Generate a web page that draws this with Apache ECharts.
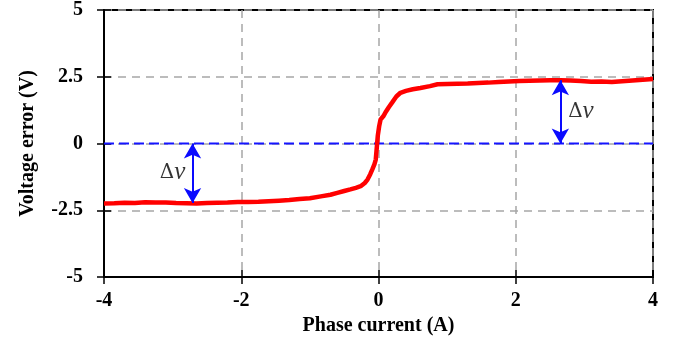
<!DOCTYPE html>
<html>
<head>
<meta charset="utf-8">
<script src="https://cdn.jsdelivr.net/npm/echarts@6/dist/echarts.min.js"></script>
<style>
  html, body { margin: 0; padding: 0; background: #fff; }
  #chart { width: 681px; height: 348px; }
</style>
</head>
<body>
<div id="chart"></div>
<script>
// Phase current (A) samples and the measured voltage error (V)
const current = [
  -4.00, -3.85, -3.70, -3.55, -3.40, -3.25, -3.10, -2.95, -2.80, -2.65,
  -2.50, -2.35, -2.20, -2.05, -1.90, -1.75, -1.60, -1.45, -1.30, -1.15,
  -1.00, -0.84, -0.70, -0.60, -0.50, -0.41, -0.33, -0.26, -0.20, -0.16,
  -0.12, -0.09, -0.06, -0.04, -0.03, -0.02, -0.01, 0.01, 0.03, 0.07,
  0.11, 0.15, 0.20, 0.26, 0.32, 0.40, 0.50, 0.61, 0.75, 0.86,
  1.00, 1.15, 1.30, 1.45, 1.60, 1.75, 1.90, 2.05, 2.20, 2.35,
  2.50, 2.65, 2.80, 2.95, 3.10, 3.25, 3.40, 3.55, 3.70, 3.85, 4.00
];
const voltageError = [
  -2.25, -2.24, -2.22, -2.23, -2.20, -2.21, -2.21, -2.23, -2.24, -2.25,
  -2.23, -2.22, -2.21, -2.19, -2.19, -2.18, -2.16, -2.14, -2.12, -2.08,
  -2.05, -1.98, -1.92, -1.85, -1.78, -1.72, -1.66, -1.60, -1.48, -1.35,
  -1.15, -0.97, -0.78, -0.60, -0.30, 0.00, 0.30, 0.65, 0.90, 1.02,
  1.20, 1.36, 1.54, 1.76, 1.90, 1.97, 2.03, 2.08, 2.15, 2.22,
  2.23, 2.24, 2.25, 2.27, 2.28, 2.30, 2.32, 2.34, 2.35, 2.36,
  2.37, 2.37, 2.36, 2.34, 2.31, 2.32, 2.30, 2.33, 2.36, 2.39, 2.42
];

// Axis ticks
const xTicks = [-4, -2, 0, 2, 4];
const yTicks = [-5, -2.5, 0, 2.5, 5];

// Zero reference line
const zeroLine = [[-4, 0], [4, 0]];

// Δv arrows: x position and the error level they reach
const arrowX = [-2.71, 2.65];
const arrowY = [-2.23, 2.37];

// Δv label anchors
const deltaLabels = [[-3.0, -1.09], [2.95, 1.2]];

const serif = '"Liberation Serif", "Times New Roman", serif';
const gridLine = { show: true, lineStyle: { color: '#a6a6a6', width: 1.5, type: [8, 6] } };
const tickStyle = { color: '#000', width: 1.5 };
const plotRect = { left: 104, right: 28, top: 10, bottom: 71 };

const chart = echarts.init(document.getElementById('chart'));

const axisBase = (ticks, extra) => Object.assign({
  type: 'value',
  min: ticks[0],
  max: ticks[ticks.length - 1],
  interval: ticks[1] - ticks[0]
}, extra);

chart.setOption({
  animation: false,
  backgroundColor: '#fff',
  grid: [
    Object.assign({ show: true, borderColor: '#000', borderWidth: 2, backgroundColor: 'transparent' }, plotRect),
    // overlay grid carrying the inward halves of the ticks
    Object.assign({ show: false }, plotRect)
  ],
  xAxis: [
    axisBase(xTicks, {
      gridIndex: 0,
      position: 'bottom',
      name: 'Phase current (A)',
      nameLocation: 'middle',
      nameGap: 32,
      nameTextStyle: { fontFamily: serif, fontWeight: 'bold', fontSize: 20, color: '#000' },
      axisLine: { show: true, onZero: false, lineStyle: { color: '#000', width: 2 } },
      axisTick: { show: true, inside: false, length: 7, lineStyle: tickStyle },
      axisLabel: { margin: 14, fontFamily: serif, fontWeight: 'bold', fontSize: 20, color: '#000' },
      splitLine: gridLine
    }),
    axisBase(xTicks, {
      gridIndex: 1,
      position: 'bottom',
      axisLine: { show: false, onZero: false },
      axisTick: { show: true, inside: true, length: 7, lineStyle: tickStyle },
      axisLabel: { show: false },
      splitLine: { show: false }
    })
  ],
  yAxis: [
    axisBase(yTicks, {
      gridIndex: 0,
      position: 'left',
      name: 'Voltage error (V)',
      nameLocation: 'middle',
      nameGap: 66,
      nameTextStyle: { fontFamily: serif, fontWeight: 'bold', fontSize: 20, color: '#000' },
      axisLine: { show: true, onZero: false, lineStyle: { color: '#000', width: 2 } },
      axisTick: { show: true, inside: false, length: 7, lineStyle: tickStyle },
      axisLabel: { margin: 21, fontFamily: serif, fontWeight: 'bold', fontSize: 20, color: '#000' },
      splitLine: gridLine
    }),
    axisBase(yTicks, {
      gridIndex: 1,
      position: 'left',
      axisLine: { show: false, onZero: false },
      axisTick: { show: true, inside: true, length: 7, lineStyle: tickStyle },
      axisLabel: { show: false },
      splitLine: { show: false }
    })
  ],
  series: [
    {
      name: 'zero',
      type: 'line',
      xAxisIndex: 1,
      yAxisIndex: 1,
      data: zeroLine,
      symbol: 'none',
      silent: true,
      lineStyle: { color: '#1414ff', width: 2, type: [10, 5] },
      z: 2
    },
    {
      name: 'voltage error',
      type: 'line',
      data: current.map((c, i) => [c, voltageError[i]]),
      symbol: 'none',
      smooth: false,
      lineStyle: { color: '#ff0000', width: 4.5 },
      z: 3
    },
    {
      name: 'delta',
      type: 'line',
      data: [],
      symbol: 'none',
      z: 4,
      markLine: {
        silent: true,
        animation: false,
        symbol: ['arrow', 'arrow'],
        symbolSize: [13, 15],
        label: { show: false },
        lineStyle: { color: '#0a0aff', width: 2, type: 'solid' },
        data: arrowX.map((x, i) => [{ coord: [x, 0] }, { coord: [x, arrowY[i]] }])
      }
    },
    {
      name: 'delta labels',
      type: 'scatter',
      data: deltaLabels,
      symbolSize: 0,
      silent: true,
      z: 5,
      label: {
        show: true,
        position: 'inside',
        formatter: '{a|Δ}{b|v}',
        rich: {
          a: { fontFamily: '"DejaVu Serif", serif', fontSize: 20, color: '#000' },
          b: { fontFamily: serif, fontStyle: 'italic', fontSize: 25, color: '#000' }
        }
      }
    }
  ]
});
</script>
</body>
</html>
